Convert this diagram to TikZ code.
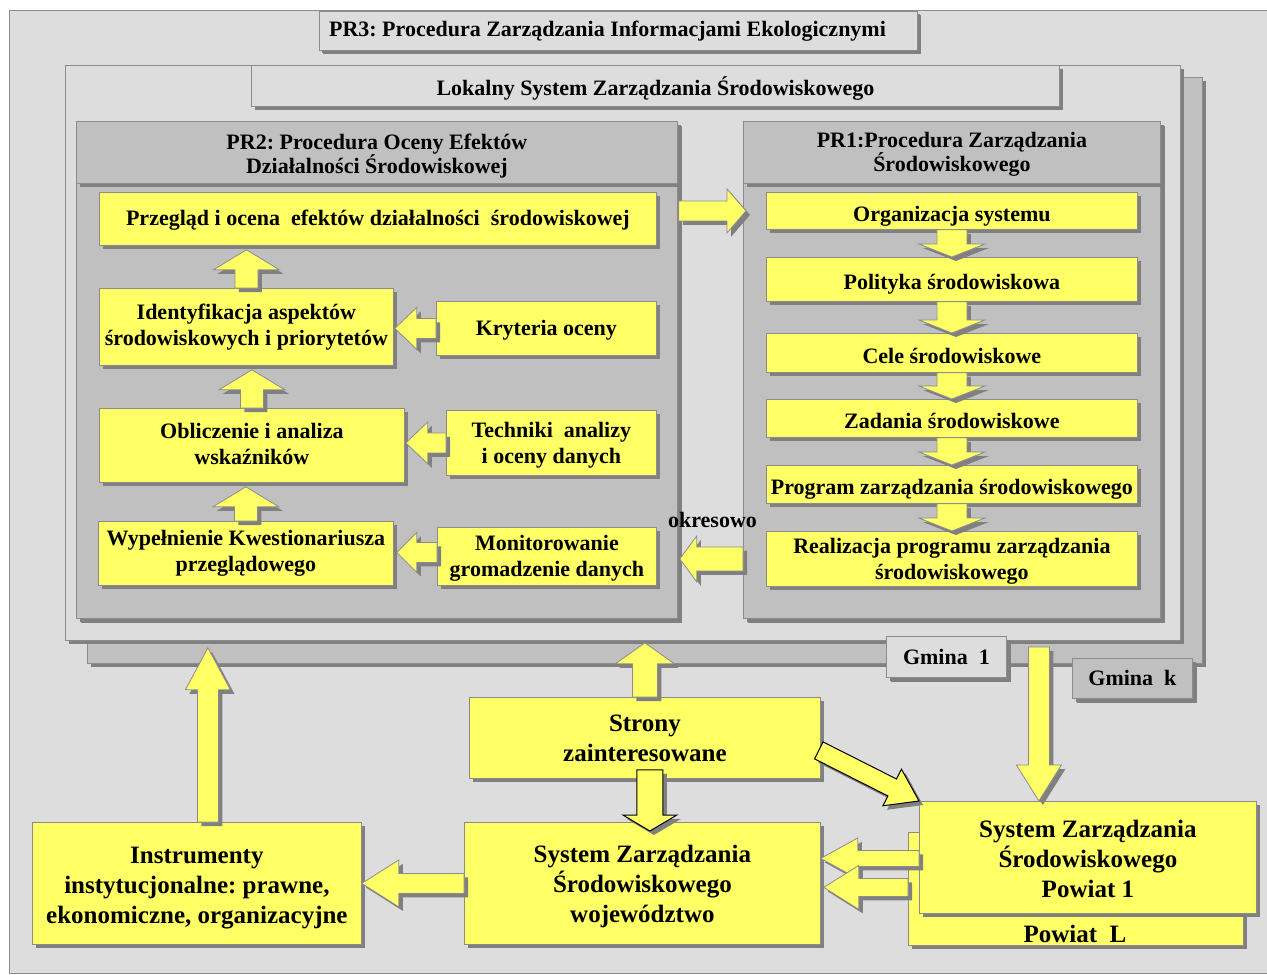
\documentclass[tikz,border=0pt]{standalone}
\usepackage{fontspec}
\setmainfont{Liberation Serif}
\usetikzlibrary{calc,shadows}
\definecolor{bg}{HTML}{DDDDDD}
\definecolor{mid}{HTML}{C0C0C0}
\definecolor{shd}{HTML}{808080}
\definecolor{yel}{HTML}{FFFF66}
\definecolor{edge}{HTML}{8C8C8C}
\newcommand\up[1]{\rule{0pt}{#1}}
\tikzset{
  every node/.style={font=\bfseries\fontsize{22}{26}\selectfont},
  big/.style={font=\bfseries\fontsize{25}{30}\selectfont},
  hd/.style={font=\bfseries\fontsize{22}{24}\selectfont},
  dshadow/.style={drop shadow={shadow xshift=#1,shadow yshift=-#1,fill=shd,opacity=1}},
  dshadow/.default=4pt,
  box/.style={draw=edge,line width=0.8pt,inner sep=1pt,align=center,anchor=north west,dshadow},
  ybox/.style={box,fill=yel},
  gbox/.style={box,fill=bg},
  mbox/.style={box,fill=mid},
  lowtext/.style={text height=21pt,text depth=0pt},
  midtext/.style={text height=17pt,text depth=3pt},
  arrowst/.style={fill=yel,draw=edge,line width=0.8pt},
  blackarrow/.style={draw=black,line width=1pt},
}
% block arrow: [style]{from}{to}{shaft half}{head half}{head length}
\newcommand\barrow[6][]{%
  \path #2 coordinate (bA) #3 coordinate (bB);%
  \pgfmathanglebetweenpoints{\pgfpointanchor{bA}{center}}{\pgfpointanchor{bB}{center}}%
  \edef\bAng{\pgfmathresult}%
  \pgfpointdiff{\pgfpointanchor{bA}{center}}{\pgfpointanchor{bB}{center}}%
  \pgfgetlastxy{\bDx}{\bDy}%
  \pgfmathsetmacro\bLen{veclen(\bDx,\bDy)}%
  \pgfmathsetmacro\bNeck{\bLen-#6}%
  \begin{scope}[shift={(bA)},xshift=4pt,yshift=-4pt,rotate=\bAng,x=1pt,y=1pt]
    \fill[shd] (0,#4) -- (\bNeck,#4) -- (\bNeck,#5) -- (\bLen,0) -- (\bNeck,-#5) -- (\bNeck,-#4) -- (0,-#4) -- cycle;
  \end{scope}
  \begin{scope}[shift={(bA)},rotate=\bAng,x=1pt,y=1pt]
    \filldraw[arrowst,#1] (0,#4) -- (\bNeck,#4) -- (\bNeck,#5) -- (\bLen,0) -- (\bNeck,-#5) -- (\bNeck,-#4) -- (0,-#4) -- cycle;
  \end{scope}
}
\begin{document}
\frenchspacing
\begin{tikzpicture}[x=1pt,y=-1pt]
\useasboundingbox (0,0) rectangle (1267,975);
\fill[white] (0,0) rectangle (1267,975);
% outer frame
\filldraw[fill=bg,draw=edge,line width=0.8pt] (9,10) rectangle (1275,973);
\node[gbox,minimum width=598,minimum height=39,dshadow=3pt] (pr3) at (319,11) {};
\node (pr3t) at (607.5,31) {PR3: Procedura Zarządzania Informacjami Ekologicznymi};
% local system frames
\node[mbox,minimum width=1115,minimum height=586] (back) at (87,77) {};
\node[gbox,minimum width=1115,minimum height=575] (lokal) at (65,65) {};
\node[gbox,minimum width=808,minimum height=41,text height=19pt,text depth=0pt] (lokt) at (251,65) {Lokalny System Zarządzania Środowiskowego};
% panels
\node[mbox,minimum width=601,minimum height=497,dshadow=5pt] (pr2) at (76,121) {};
\node[mbox,hd,minimum width=601,minimum height=62] (pr2h) at (76,121) {\up{23pt}PR2: Procedura Oceny Efektów\\Działalności Środowiskowej};
\node[mbox,minimum width=417,minimum height=497,dshadow=5pt] (pr1) at (743,121) {};
\node[mbox,hd,minimum width=417,minimum height=62] (pr1h) at (743,121) {\up{19.5pt}PR1:Procedura Zarządzania\\Środowiskowego};
% PR2 boxes
\node[ybox,midtext,minimum width=557,minimum height=53] (przeg) at (99,192) {Przegląd i ocena~ efektów działalności~ środowiskowej};
\node[ybox,minimum width=294,minimum height=77] (ident) at (99,288) {Identyfikacja aspektów\\środowiskowych i priorytetów};
\node[ybox,midtext,minimum width=220,minimum height=54] (kryt) at (436,301) {Kryteria oceny};
\node[ybox,minimum width=305,minimum height=74] (oblicz) at (99,408) {Obliczenie i analiza\\wskaźników\rule[-4pt]{0pt}{0pt}};
\node[ybox,minimum width=210,minimum height=65] (tech) at (446,410) {\up{20pt}Techniki~ analizy\\i oceny danych};
\node[ybox,minimum width=295,minimum height=64] (wyp) at (98,521) {Wypełnienie Kwestionariusza\\przeglądowego};
\node[ybox,minimum width=219,minimum height=58] (monit) at (437,527) {\up{20pt}Monitorowanie\\gromadzenie danych};
% PR1 boxes
\node[ybox,lowtext,minimum width=371,minimum height=37] (org) at (766,192) {Organizacja systemu};
\node[ybox,lowtext,minimum width=371,minimum height=44] (pol) at (766,257) {Polityka środowiskowa};
\node[ybox,lowtext,minimum width=371,minimum height=39] (cele) at (766,333) {Cele środowiskowe};
\node[ybox,lowtext,minimum width=371,minimum height=38] (zad) at (766,399) {Zadania środowiskowe};
\node[ybox,lowtext,minimum width=371,minimum height=38] (prog) at (766,465) {Program zarządzania środowiskowego};
\node[ybox,minimum width=371,minimum height=55] (real) at (766,531) {\up{20pt}Realizacja programu zarządzania\\środowiskowego};
% PR2 arrows
\barrow{(ident.north)}{($(ident.north |- przeg.south)+(0,4)$)}{11.5}{33}{20}
\barrow{(oblicz.north)}{($(oblicz.north |- ident.south)+(0,4)$)}{11.5}{33}{20}
\barrow{(wyp.north)}{($(wyp.north |- oblicz.south)+(0,4)$)}{11.5}{33}{20}
\barrow{(kryt.west)}{($(kryt.west -| ident.east)+(1,0)$)}{10}{21}{22}
\barrow{(tech.west)}{($(tech.west -| oblicz.east)+(1,0)$)}{10}{21}{22}
\barrow{($(monit.west)+(0,-4)$)}{($(monit.west -| wyp.east)+(3,-4)$)}{10}{20}{20}
% PR1 arrows
\barrow{(org.south)}{(pol.north)}{15}{33}{13}
\barrow{(pol.south)}{(cele.north)}{15}{33}{13}
\barrow{(cele.south)}{(zad.north)}{15}{33}{13}
\barrow{(zad.south)}{(prog.north)}{15}{33}{13}
\barrow{(prog.south)}{(real.north)}{15}{33}{13}
% between panels
\barrow{($(org.west -| pr2.east)+(1,0)$)}{($(org.west -| pr1.west)+(3,0)$)}{10}{22}{19}
\barrow{(real.west -| pr1.west)}{($(real.west -| pr2.east)+(2,0)$)}{12}{23}{17}
\node[anchor=base] (okr) at (712.5,527) {okresowo};
% gminas
\node[gbox,minimum width=120,minimum height=41,dshadow=5pt] (g1) at (886,636) {Gmina~ 1};
\node[mbox,minimum width=120,minimum height=40,dshadow=5pt] (gk) at (1072,658) {Gmina~ k};
% bottom boxes
\node[ybox,big,minimum width=351,minimum height=81] (strony) at (469,697) {Strony\\zainteresowane};
\node[ybox,big,minimum width=356,minimum height=122] (woj) at (464,822) {\up{24pt}System Zarządzania\\Środowiskowego\\województwo};
\node[ybox,big,minimum width=329,minimum height=122] (instr) at (32,822) {\up{26pt}Instrumenty\\instytucjonalne: prawne,\\ekonomiczne, organizacyjne};
\node[ybox,minimum width=335,minimum height=113] (powL) at (908,832) {};
\node[big,anchor=base] (powLt) at (1075,942) {Powiat~ L};
\node[ybox,big,minimum width=337,minimum height=112] (pow1) at (919,801) {\up{20pt}System Zarządzania\\Środowiskowego\\Powiat 1};
% bottom arrows
\coordinate (iu) at ($(instr.north)+(11,0)$);
\barrow{(iu)}{($(iu |- lokal.south)+(0,7)$)}{10.5}{22.5}{42}
\barrow{(strony.north)}{($(strony.north |- lokal.south)+(0,2)$)}{12.5}{29.5}{21}
\coordinate (sd) at ($(strony.south)+(5,-9)$);
\barrow[blackarrow]{(sd)}{($(sd |- woj.north)+(0,9)$)}{13}{27}{16}
\barrow[blackarrow]{($(strony.east)+(-2,12.5)$)}{(pow1.north west)}{9.5}{20.5}{30}
\coordinate (gd) at ($(pow1.north)+(-49,-154)$);
\barrow{(gd)}{(gd |- pow1.north)}{10.5}{22.5}{36}
\barrow{(woj.west)}{(woj.west -| instr.east)}{10}{23.5}{37}
\barrow{($(pow1.west)+(0,1)$)}{($(pow1.west -| woj.east)+(0,1)$)}{8}{20.5}{37}
\barrow{($(powL.west)+(0,-1.5)$)}{($(powL.west -| woj.east)+(3,-1.5)$)}{9}{22}{35}
\end{tikzpicture}
\end{document}
